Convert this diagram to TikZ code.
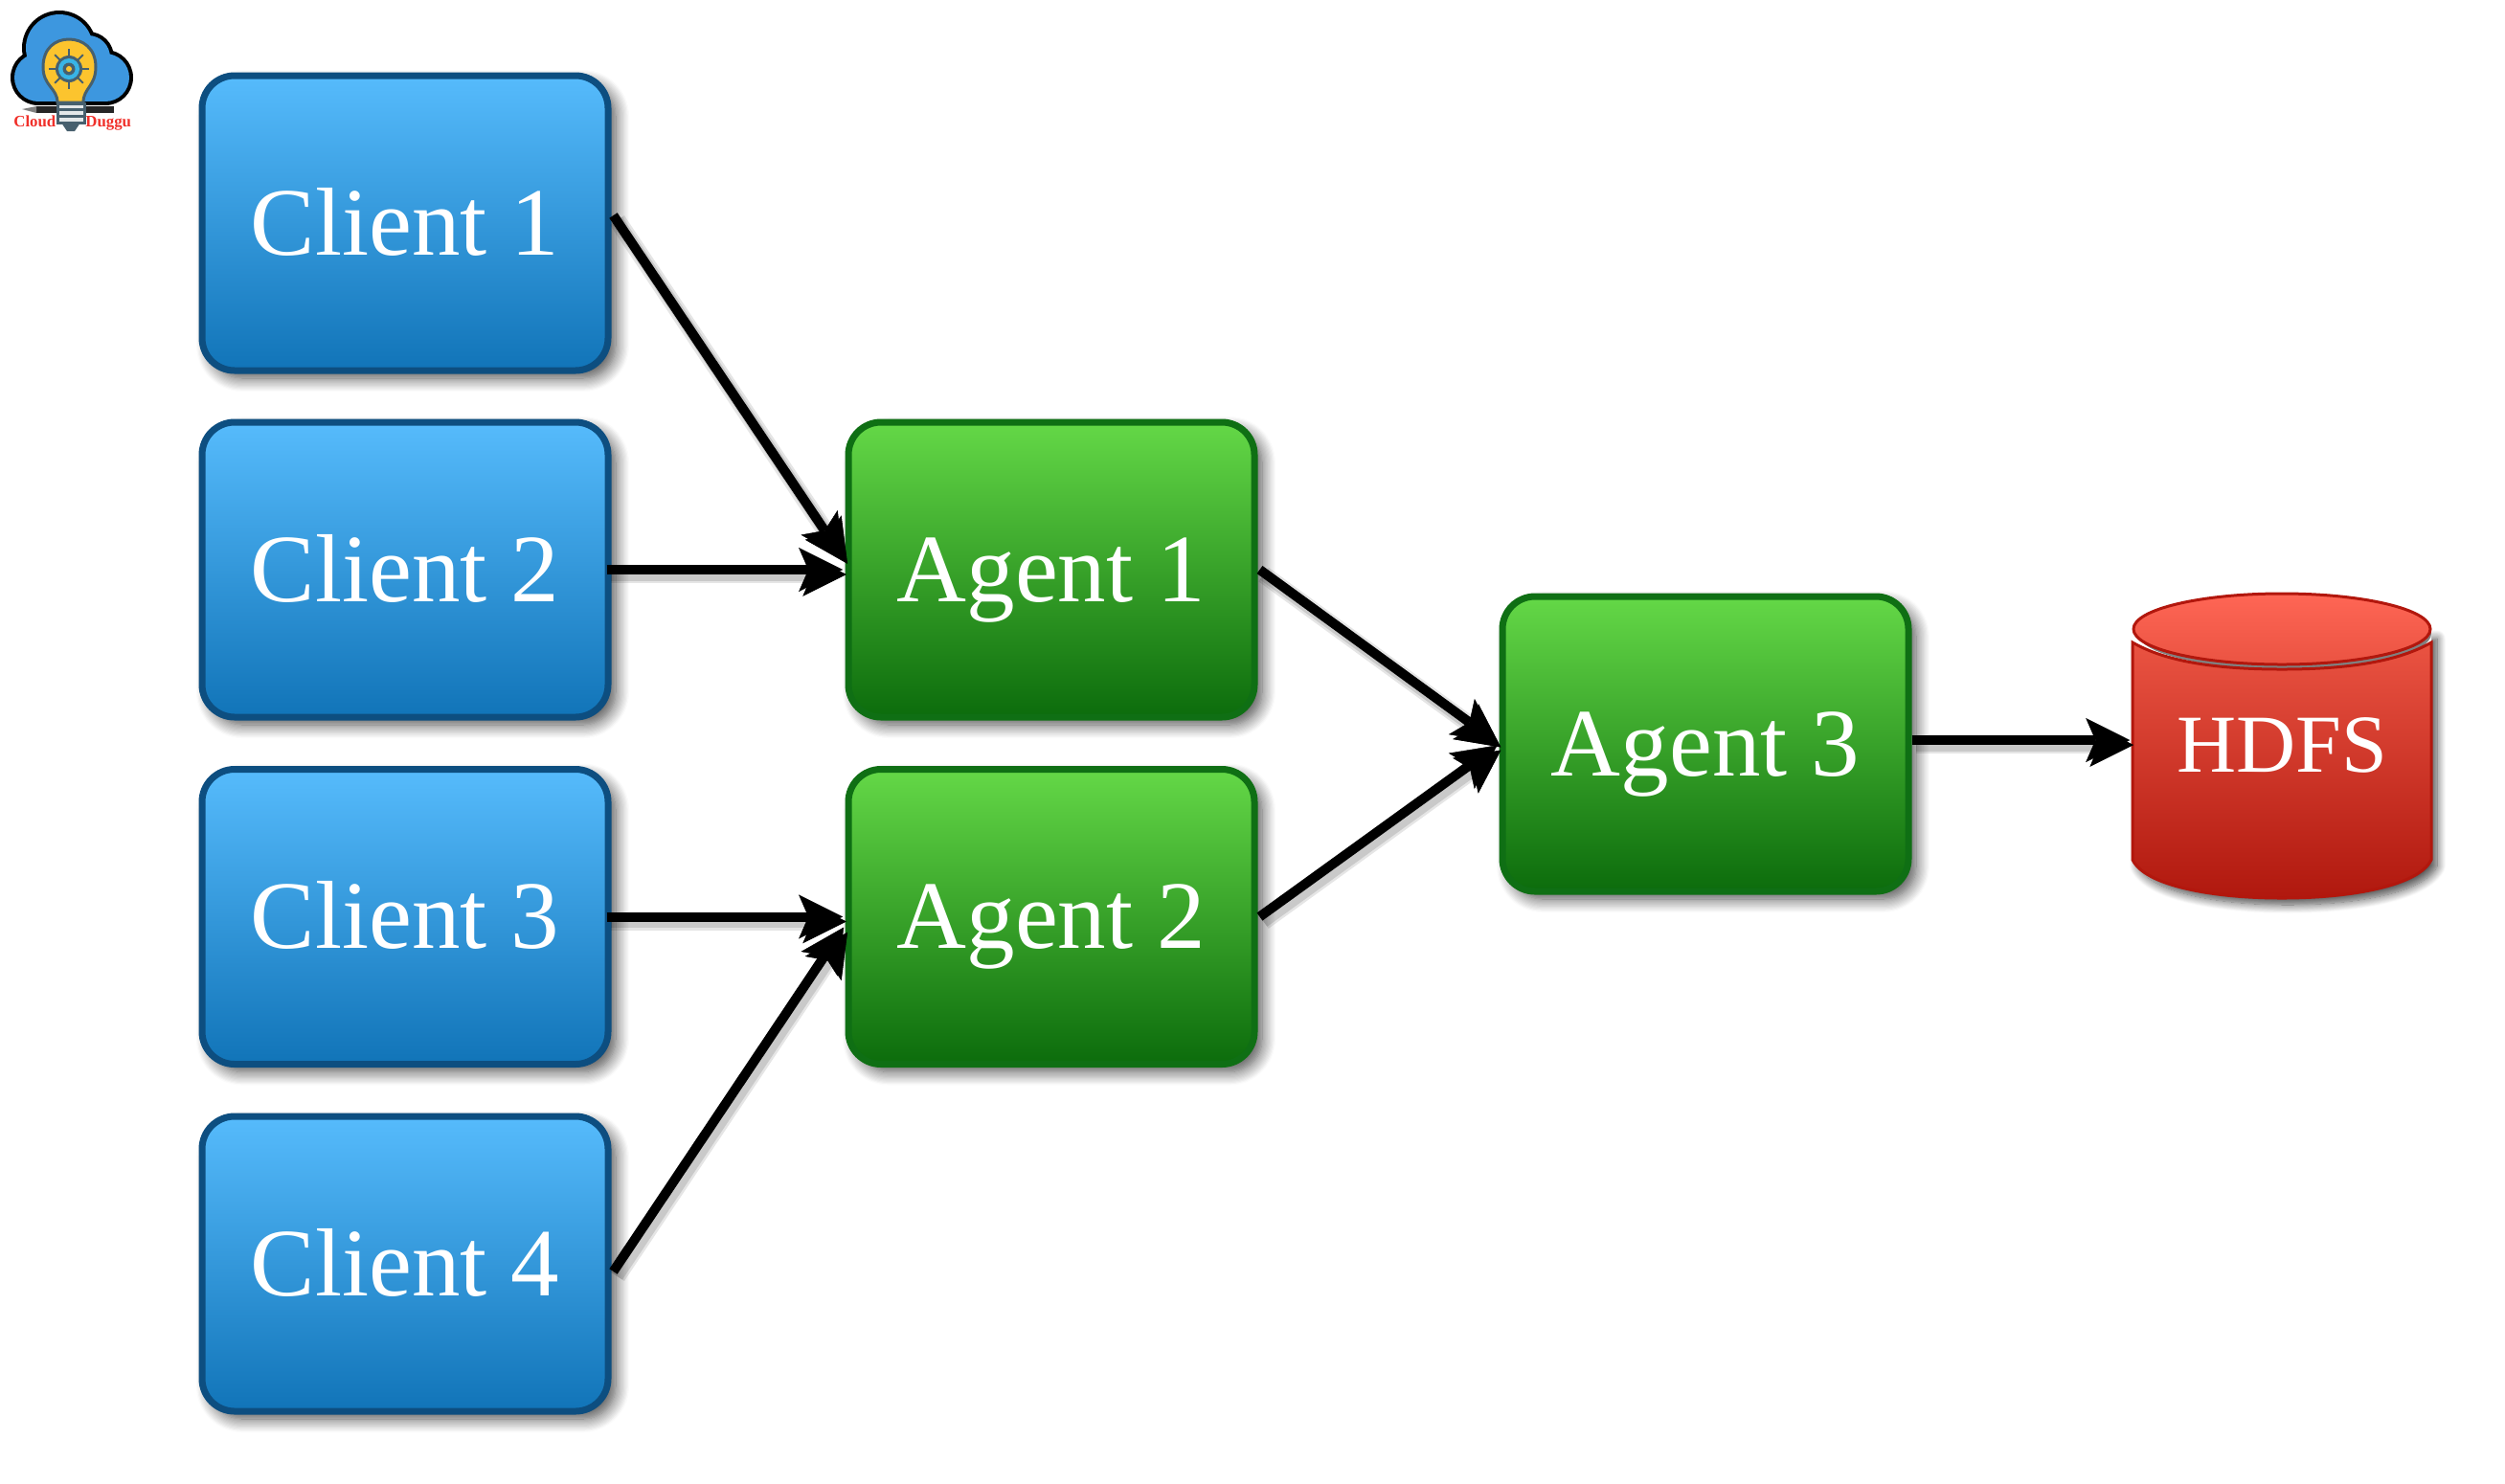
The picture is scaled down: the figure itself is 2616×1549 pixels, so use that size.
\documentclass[tikz,border=0pt]{standalone}
\usepackage{fontspec}
\setmainfont{Liberation Serif}
\usetikzlibrary{arrows.meta,shadows.blur,shapes.geometric}
\definecolor{bluetop}{HTML}{56BBFC}
\definecolor{bluebot}{HTML}{1174B8}
\definecolor{blueedge}{HTML}{0D4E80}
\definecolor{greentop}{HTML}{64D847}
\definecolor{greenbot}{HTML}{0C6C0C}
\definecolor{greenedge}{HTML}{0F6F14}
\definecolor{redtop}{HTML}{FF6655}
\definecolor{redmid}{HTML}{EA5342}
\definecolor{redbot}{HTML}{B0180E}
\definecolor{rededge}{HTML}{B2170D}
\definecolor{logoblue}{HTML}{3D97DF}
\definecolor{logoyellow}{HTML}{FCC42E}
\definecolor{logoslate}{HTML}{47606E}
\definecolor{logocyan}{HTML}{38B4E6}
\definecolor{logored}{HTML}{F0302A}
\tikzset{
  softshadow/.style={blur shadow={shadow xshift=4pt,shadow yshift=-4pt,shadow blur steps=12,shadow blur radius=7pt,shadow opacity=70}},
  boxbase/.style={draw,line width=3.5pt,rounded corners=17pt,minimum width=212pt,minimum height=154pt,inner sep=0pt,text=white,font=\fontsize{50.5}{56}\selectfont,text height=33.4pt,text depth=0pt,softshadow},
  clientbox/.style={boxbase,draw=blueedge,top color=bluetop,bottom color=bluebot},
  agentbox/.style={boxbase,draw=greenedge,top color=greentop,bottom color=greenbot},
  dbanchor/.style={minimum width=156pt,minimum height=159pt,inner sep=0pt,text=white,font=\fontsize{43}{48}\selectfont,text height=33pt,text depth=0pt},
  flow/.style={draw=black,fill=none,line width=5pt,shorten >=1.2pt,-{Stealth[length=23pt,width=23pt,inset=5pt,line width=0.2pt,fill=black,color=black]},
    preaction={draw=black,draw opacity=.10,line width=9pt,transform canvas={shift={(2pt,-2.5pt)}}},
    preaction={draw=black,draw opacity=.12,line width=6.5pt,transform canvas={shift={(2pt,-2.5pt)}}}},
  logotext/.style={inner sep=0pt,text=logored,font=\fontsize{8.4}{9}\bfseries\selectfont,anchor=base west},
}
\begin{document}
\begin{tikzpicture}[x=.5pt,y=-.5pt]
\useasboundingbox (0,0) rectangle (2616,1549);
% logo
\foreach \cx/\cy/\r in {62/50/35,92/60/23,110/81/25,40/81/25}{\fill[black] (\cx,\cy) circle[radius=\r+4];}
\fill[black] (40,75) rectangle (110,110);
\foreach \cx/\cy/\r in {62/50/35,92/60/23,110/81/25,40/81/25}{\fill[logoblue] (\cx,\cy) circle[radius=\r];}
\fill[logoblue] (40,75) rectangle (110,106);
\fill[black!85] (38,111) rectangle (119,118);
\fill[black!50] (23,114) -- (38,111) -- (38,118) -- cycle;
\draw[logoslate,line width=1.5pt,fill=logoyellow] (60,107) .. controls (60,92) and (45,90) .. (45,70) .. controls (45,50) and (58,41) .. (72,41) .. controls (86,41) and (100,50) .. (100,70) .. controls (100,90) and (87,92) .. (87,107) -- cycle;
\foreach \a in {0,45,...,315}{\draw[logoslate,line width=1pt] (72,72) -- ++(\a:21);}
\fill[logoslate] (72,72) circle[radius=14];
\fill[logocyan] (72,72) circle[radius=11];
\fill[logoslate] (72,72) circle[radius=6.5];
\fill[logoyellow] (72,72) circle[radius=3];
\draw[logoslate,line width=1.5pt,fill=white!85!logoslate] (60,108) rectangle (88,128);
\draw[logoslate,line width=1.5pt] (60,114) -- (88,114) (60,121) -- (88,121);
\fill[logoslate] (64,128) -- (84,128) -- (78,137) -- (70,137) -- cycle;
\node[logotext] (logoa) at (14,132) {Cloud};
\node[logotext] (logob) at (89,132) {Duggu};
% database
\path[blur shadow={shadow xshift=3pt,shadow yshift=-3.5pt,shadow blur steps=12,shadow blur radius=4.5pt,shadow opacity=70},fill=white] (2227,660) -- (2227,898) .. controls (2240,925) and (2310,938) .. (2383,938) .. controls (2456,938) and (2526,925) .. (2539,898) -- (2539,660) -- cycle;
\fill[white] (2220,610) rectangle (2530,668);
\fill[white] (2220,665) rectangle (2234,675);
\fill[black!50] (2386,662) ellipse[x radius=153,y radius=37];
\draw[rededge,line width=1.5pt,top color=redmid,bottom color=redbot] (2227,671) .. controls (2260,690) and (2310,699) .. (2383,699) .. controls (2456,699) and (2506,690) .. (2539,671) -- (2539,898) .. controls (2526,925) and (2456,938) .. (2383,938) .. controls (2310,938) and (2240,925) .. (2227,898) -- cycle;
\draw[rededge,line width=1.5pt,top color=redtop,bottom color=redmid] (2383,657) ellipse[x radius=155,y radius=37];
\node[dbanchor] (hdfs) at (2383,773) {HDFS};
% boxes
\node[clientbox] (c1) at (423,233) {Client 1};
\node[clientbox] (c2) at (423,595) {Client 2};
\node[clientbox] (c3) at (423,957.5) {Client 3};
\node[clientbox] (c4) at (423,1320) {Client 4};
\node[agentbox] (a1) at (1098,595) {Agent 1};
\node[agentbox] (a2) at (1098,957.5) {Agent 2};
\node[agentbox] (a3) at (1781,777) {Agent 3};
% connectors
\draw[flow] ([xshift=1pt,yshift=4pt]c1.east) -- ([yshift=4.5pt]a1.west);
\draw[flow] ([xshift=-2.5pt]c2.east) -- (a1.west);
\draw[flow] ([xshift=-2.5pt]c3.east) -- (a2.west);
\draw[flow] ([xshift=1pt,yshift=-4pt]c4.east) -- ([yshift=-4.5pt]a2.west);
\draw[flow] ([xshift=1pt]a1.east) -- (a3.west);
\draw[flow] ([xshift=1pt]a2.east) -- (a3.west);
\draw[flow] (a3.east |- hdfs.west) -- (hdfs.west);
\end{tikzpicture}
\end{document}
